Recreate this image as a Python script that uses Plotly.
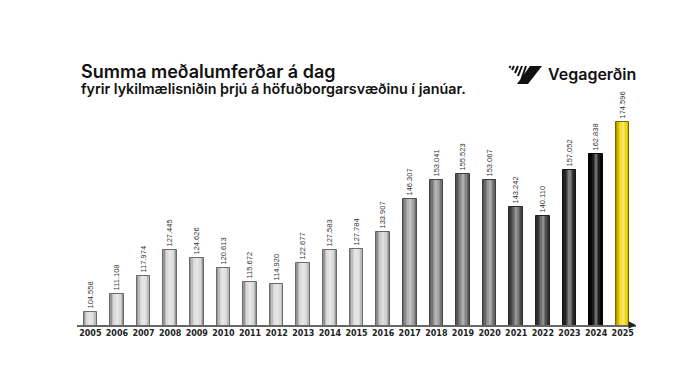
import plotly.graph_objects as go

years = [str(y) for y in range(2005, 2026)]
values = [104558, 111108, 117974, 127445, 124626, 120613, 115672, 114920,
          122677, 127583, 127784, 133907, 146307, 153041, 155523, 153067,
          143242, 140110, 157052, 162838, 174596]
bar_colors = ["#d6d6d6"] * 11 + ["#c6c6c6", "#9c9c9c", "#878787", "#7a7a7a",
              "#767676", "#525252", "#414141", "#2a2a2a", "#080808", "#f0d400"]

title = "Summa meðalumferðar á dag"
subtitle = "fyrir lykilmælisniðin þrjú á höfuðborgarsvæðinu í janúar."
brand = "Vegagerðin"

W, H = 688, 387
L, R, T, B = 77, 52, 100, 62
PW, PH = W - L - R, H - T - B


def px(x):
    return (x - L) / PW


def py(y):
    return (H - B - y) / PH


def shade(hexc, f):
    c = [int(hexc[i:i + 2], 16) for i in (1, 3, 5)]
    if f >= 0:
        c = [round(v + (255 - v) * f) for v in c]
    else:
        c = [round(v * (1 + f)) for v in c]
    return "#" + "".join(f"{v:02x}" for v in c)


fig = go.Figure()
fig.add_trace(go.Bar(
    x=years, y=values, width=0.51,
    marker=dict(color=[shade(c, -0.30) for c in bar_colors],
                line=dict(color=[shade(c, -0.50) for c in bar_colors], width=1)),
    texttemplate="%{y:,}", textposition="outside", textangle=-90, constraintext="none",
    textfont=dict(family="Liberation Sans", size=7.5, color="#333333"),
    cliponaxis=False, hoverinfo="skip"))
for w, f in [(0.40, -0.12), (0.29, 0.08), (0.18, 0.25), (0.08, 0.40)]:
    fig.add_trace(go.Bar(x=years, y=values, width=w,
                         marker=dict(color=[shade(c, f) for c in bar_colors], line=dict(width=0)),
                         hoverinfo="skip"))

ymin = 99770
ymax = ymin + PH / 2.713 * 1000

annotations = [
    dict(x=px(79), y=py(71.5), xref="paper", yref="paper", text=title, showarrow=False,
         xanchor="left", yanchor="middle",
         font=dict(family="Inter", size=18, color="#111111", weight=600)),
    dict(x=px(79), y=py(88.5), xref="paper", yref="paper", text=subtitle, showarrow=False,
         xanchor="left", yanchor="middle",
         font=dict(family="Inter", size=14.3, color="#111111", weight=600)),
    dict(x=px(546), y=py(74), xref="paper", yref="paper", text=brand, showarrow=False,
         xanchor="left", yanchor="middle",
         font=dict(family="Inter", size=16, color="#111111", weight=600)),
    dict(x=1.0, y=0, xref="paper", yref="paper", ax=-8, ay=0, text="", showarrow=True,
         arrowhead=2, arrowsize=1, arrowwidth=1.5, arrowcolor="#222222"),
]

shapes = []
# logo mark: solid slab
pts = [(530, 66), (542, 66), (528, 84), (517, 84)]
path = "M " + " L ".join(f"{px(a)} {py(b)}" for a, b in pts) + " Z"
shapes.append(dict(type="path", xref="paper", yref="paper", path=path,
                   fillcolor="#111111", line=dict(width=0)))
# logo mark: fan of stripes
for x0, y0, x1, y1 in [(510.5, 66, 509.5, 68), (514, 66, 512, 70), (518, 66, 515, 73),
                       (522, 66, 518, 76), (526, 66, 521.5, 79)]:
    shapes.append(dict(type="line", xref="paper", yref="paper",
                       x0=px(x0), y0=py(y0), x1=px(x1), y1=py(y1),
                       line=dict(color="#111111", width=2)))

fig.update_layout(
    width=W, height=H, barmode="overlay", bargap=0,
    margin=dict(l=L, r=R, t=T, b=B),
    paper_bgcolor="white", plot_bgcolor="white",
    separators=",.",
    showlegend=False,
    annotations=annotations, shapes=shapes,
    xaxis=dict(type="category", showline=True, linecolor="#666666", linewidth=1.5,
               ticks="", showgrid=False, zeroline=False,
               tickfont=dict(family="DejaVu Sans", size=8, color="#222222", weight="bold")),
    yaxis=dict(range=[ymin, ymax], visible=False, showgrid=False),
)

fig.write_html("out.html", config={"displayModeBar": False},
               post_script="document.body.style.margin='0';")
